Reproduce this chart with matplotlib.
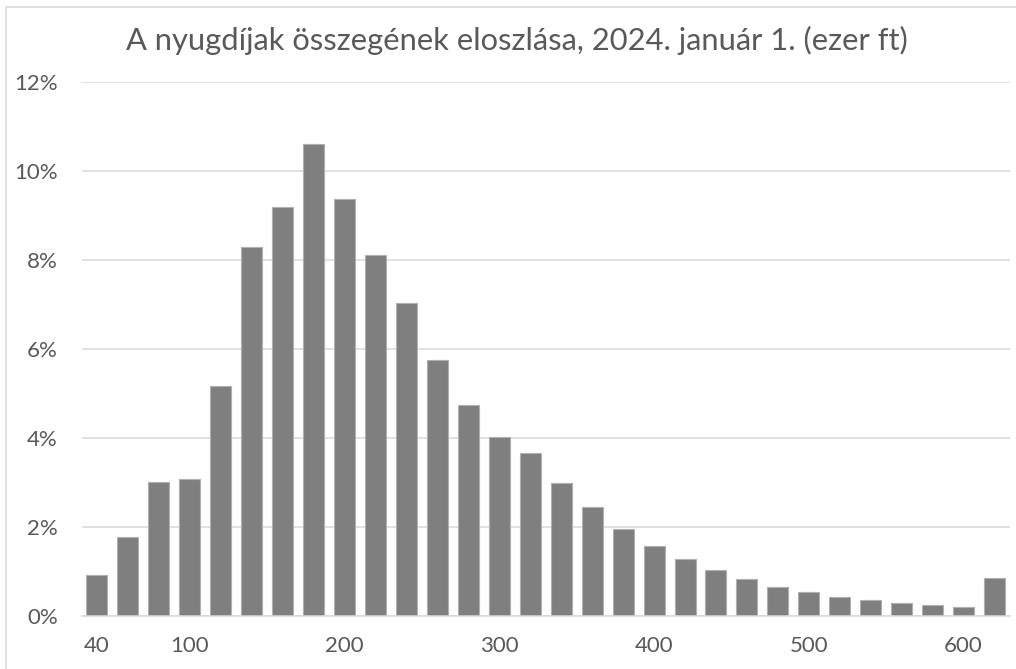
import matplotlib
matplotlib.use("Agg")
import matplotlib.pyplot as plt
from matplotlib.patches import Rectangle

# ---- data ----
categories = [40, 60, 80, 100, 120, 140, 160, 180, 200, 220, 240, 260, 280, 300,
              320, 340, 360, 380, 400, 420, 440, 460, 480, 500, 520, 540, 560,
              580, 600, 620]
shares = [0.90, 1.77, 3.01, 3.07, 5.16, 8.28, 9.18, 10.61, 9.38, 8.11, 7.04,
          5.75, 4.73, 4.01, 3.65, 2.97, 2.43, 1.95, 1.57, 1.26, 1.03, 0.82,
          0.65, 0.53, 0.42, 0.35, 0.27, 0.23, 0.18, 0.84]
xtick_labels = [40, 100, 200, 300, 400, 500, 600]
ytick_values = [0, 2, 4, 6, 8, 10, 12]
title = "A nyugdíjak összegének eloszlása, 2024. január 1. (ezer ft)"

W, H = 1016, 669
plt.rcParams['font.family'] = ['Lato', 'DejaVu Sans']
fig = plt.figure(figsize=(W / 100, H / 100), dpi=100)
fig.patch.set_facecolor('white')

ax = fig.add_axes([81.5 / W, 1 - 615.5 / H, (1010 - 81.5) / W, (615.5 - 82.1) / H])
idx = list(range(len(categories)))
ax.bar(idx, shares, width=0.68, color='#7f7f7f', edgecolor='#b0b0b0',
       linewidth=0.8, zorder=3)
ax.set_xlim(-0.5, len(categories) - 0.5)
ax.set_ylim(0, 12)
ax.set_yticks(ytick_values)
ax.set_yticklabels([f"{v}%" for v in ytick_values])
pos = [categories.index(v) for v in xtick_labels]
ax.set_xticks(pos)
ax.set_xticklabels([str(v) for v in xtick_labels])
ax.tick_params(axis='both', length=0, labelsize=16, colors='#595959')
ax.tick_params(axis='y', pad=17)
ax.tick_params(axis='x', pad=15)
ax.grid(axis='y', color='#d9d9d9', linewidth=1.1, zorder=0)
for s in ['top', 'right', 'left']:
    ax.spines[s].set_visible(False)
ax.spines['bottom'].set_color('#d9d9d9')
ax.spines['bottom'].set_linewidth(1.1)
ax.spines['bottom'].set_zorder(4)

# title fitted to width
t = fig.text(517 / W, 1 - 40 / H, title, ha='center', va='center',
             fontsize=17, color='#595959')
fig.canvas.draw()
wpx = t.get_window_extent().width
t.set_fontsize(17 * 780 / wpx)

# chart border (cropped on right/bottom)
fig.add_artist(Rectangle((6 / W, -0.05), 1.1, 1 - 7 / H + 0.05,
                         transform=fig.transFigure, fill=False,
                         edgecolor='#d9d9d9', linewidth=1.1))

fig.savefig("out.png", dpi=100)
